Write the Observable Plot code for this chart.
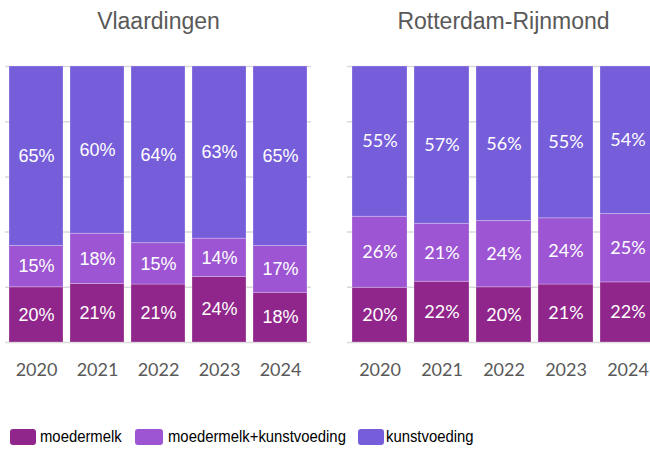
<!DOCTYPE html>
<html>
<head>
<meta charset="utf-8">
<script src="https://cdn.jsdelivr.net/npm/d3@7"></script>
<script src="https://cdn.jsdelivr.net/npm/@observablehq/plot@0.6"></script>
<style>
  html, body { margin: 0; padding: 0; background: #fff; overflow: hidden; }
  #wrap { position: relative; width: 650px; height: 450px; overflow: hidden; }
  .panel { position: absolute; top: 0; }
  .leg { position: absolute; top: 427px; font-family: "Liberation Sans", Arial, sans-serif; font-size: 16.5px; color: #000; transform: scaleX(0.9); transform-origin: left center; white-space: nowrap; }
  .sw { position: absolute; top: 429px; height: 16px; border-radius: 3px; }
</style>
</head>
<body>
<div id="wrap"></div>
<script>
const years = ["2020", "2021", "2022", "2023", "2024"];
const types = ["moedermelk", "moedermelk+kunstvoeding", "kunstvoeding"];
const colors = ["#90268B", "#9D55D3", "#765DDA"];

// Vlaardingen
const vlaMoedermelk = [20, 21, 21, 24, 18];
const vlaMix = [15, 18, 15, 14, 17];
const vlaKunst = [65, 60, 64, 63, 65];

// Rotterdam-Rijnmond
const rrMoedermelk = [20, 22, 20, 21, 22];
const rrMix = [26, 21, 24, 24, 25];
const rrKunst = [55, 57, 56, 55, 54];

const gridTicks = [0, 0.2, 0.4, 0.6, 0.8, 1];

function rows(a, b, c) {
  const out = [];
  years.forEach((y, i) => {
    out.push({year: y, type: types[0], value: a[i]});
    out.push({year: y, type: types[1], value: b[i]});
    out.push({year: y, type: types[2], value: c[i]});
  });
  return out;
}

function panel(title, data, labelFont, labelSize, marginRight) {
  return Plot.plot({
    width: 330,
    height: 392,
    marginTop: 66,
    marginBottom: 50,
    marginLeft: 5,
    marginRight: marginRight,
    style: {fontFamily: "Lato, sans-serif", color: "#595959", background: "transparent", overflow: "visible"},
    x: {domain: years, paddingInner: 0.12, paddingOuter: 0.05, label: null},
    y: {domain: [0, 1], axis: null},
    color: {domain: types, range: colors},
    marks: [
      Plot.ruleY(gridTicks, {stroke: "#d9d9d9", strokeWidth: 1.5}),
      Plot.barY(data, Plot.stackY({offset: "normalize", x: "year", y: "value", fill: "type", stroke: "#ffffff", strokeOpacity: 0.25, strokeWidth: 1})),
      Plot.text(data, Plot.stackY({offset: "normalize", x: "year", y: "value", z: "type", text: d => d.value + "%", fill: "white", fontSize: labelSize, fontFamily: labelFont})),
      Plot.axisX({tickSize: 0, tickPadding: 21, fontSize: 18, fontFamily: "Lato, sans-serif", fill: "#595959"}),
      Plot.text([title], {frameAnchor: "top", lineAnchor: "bottom", dy: -38, fontSize: 23, fontFamily: "Liberation Sans, Arial, sans-serif", fill: "#595959"})
    ]
  });
}

const wrap = document.getElementById("wrap");
const left = panel("Vlaardingen", rows(vlaMoedermelk, vlaMix, vlaKunst), "Liberation Sans, Arial, sans-serif", 18, 19);
left.classList.add("panel");
left.style.left = "0px";
wrap.appendChild(left);

const right = panel("Rotterdam-Rijnmond", rows(rrMoedermelk, rrMix, rrKunst), "Lato, sans-serif", 18, 13);
right.classList.add("panel");
right.style.left = "342px";
wrap.appendChild(right);

// legend
const legPos = [[10, 26, 40], [135, 28, 168], [358, 26, 386]];
types.forEach((t, i) => {
  const sw = document.createElement("div");
  sw.className = "sw";
  sw.style.left = legPos[i][0] + "px";
  sw.style.width = legPos[i][1] + "px";
  sw.style.background = colors[i];
  wrap.appendChild(sw);
  const tx = document.createElement("div");
  tx.className = "leg";
  tx.style.left = legPos[i][2] + "px";
  tx.textContent = t;
  wrap.appendChild(tx);
});
</script>
</body>
</html>
